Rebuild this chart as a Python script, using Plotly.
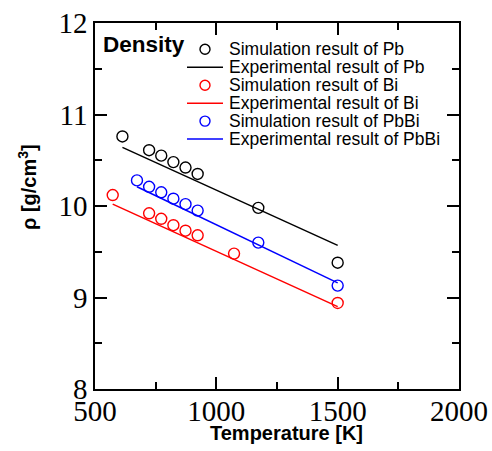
import plotly.graph_objects as go

# ---------------- data ----------------
pb_sim_T = [613, 723, 773, 823, 873, 923, 1173, 1500]
pb_sim_rho = [10.76, 10.61, 10.55, 10.48, 10.42, 10.35, 9.98, 9.38]
pb_exp_T = [613, 1500]
pb_exp_rho = [10.64, 9.57]

bi_sim_T = [573, 723, 773, 823, 873, 923, 1073, 1500]
bi_sim_rho = [10.12, 9.92, 9.86, 9.79, 9.73, 9.68, 9.48, 8.94]
bi_exp_T = [573, 1500]
bi_exp_rho = [10.02, 8.90]

pbbi_sim_T = [673, 723, 773, 823, 873, 923, 1173, 1500]
pbbi_sim_rho = [10.28, 10.21, 10.15, 10.08, 10.02, 9.95, 9.60, 9.13]
pbbi_exp_T = [673, 1500]
pbbi_exp_rho = [10.21, 9.16]

legend_labels = [
    "Simulation result of Pb",
    "Experimental result of Pb",
    "Simulation result of Bi",
    "Experimental result of Bi",
    "Simulation result of PbBi",
    "Experimental result of PbBi",
]
legend_kinds = ["marker", "line", "marker", "line", "marker", "line"]
legend_colors = ["black", "black", "red", "red", "blue", "blue"]

# ---------------- layout constants ----------------
W, H = 492, 451
ML, MR, MT, MB = 95, 33, 23, 62
PW = W - ML - MR
PH = H - MT - MB


def px_x(x):
    return (x - ML) / PW


def px_y(y):
    return (H - MB - y) / PH


MS = 11
LW = 1.5

fig = go.Figure()


def add_sim(T, rho, color, name):
    fig.add_trace(go.Scatter(
        x=T, y=rho, mode="markers", name=name, showlegend=False,
        cliponaxis=False,
        marker=dict(symbol="circle-open", size=MS, color=color,
                    line=dict(width=1.4, color=color)),
    ))


def add_exp(T, rho, color, name):
    fig.add_trace(go.Scatter(
        x=T, y=rho, mode="lines", name=name, showlegend=False,
        line=dict(color=color, width=LW),
    ))


add_exp(pb_exp_T, pb_exp_rho, "black", legend_labels[1])
add_exp(bi_exp_T, bi_exp_rho, "red", legend_labels[3])
add_exp(pbbi_exp_T, pbbi_exp_rho, "blue", legend_labels[5])
add_sim(pb_sim_T, pb_sim_rho, "black", legend_labels[0])
add_sim(bi_sim_T, bi_sim_rho, "red", legend_labels[2])
add_sim(pbbi_sim_T, pbbi_sim_rho, "blue", legend_labels[4])

# ---------------- custom legend ----------------
shapes = []
annotations = []
row0, step = 49.3, 17.95
for i, (lab, kind, col) in enumerate(zip(legend_labels, legend_kinds, legend_colors)):
    yc = row0 + i * step
    if kind == "marker":
        shapes.append(dict(
            type="circle", xref="paper", yref="paper",
            xsizemode="pixel", ysizemode="pixel",
            xanchor=px_x(205), yanchor=px_y(yc),
            x0=-5, x1=5, y0=-5, y1=5,
            line=dict(color=col, width=1.4), fillcolor="rgba(0,0,0,0)",
        ))
    else:
        shapes.append(dict(
            type="line", xref="paper", yref="paper",
            x0=px_x(187), x1=px_x(223), y0=px_y(yc), y1=px_y(yc),
            line=dict(color=col, width=LW),
        ))
    annotations.append(dict(
        text=lab, xref="paper", yref="paper", x=px_x(227), y=px_y(yc),
        xanchor="left", yanchor="middle", showarrow=False,
        font=dict(family="Liberation Sans, Arial", size=17.5, color="black"),
    ))

annotations.append(dict(
    text="<b>Density</b>", xref="paper", yref="paper", x=px_x(101), y=px_y(44.5),
    xanchor="left", yanchor="middle", showarrow=False,
    font=dict(family="Liberation Sans, Arial", size=22.5, color="black"),
))
annotations.append(dict(
    text="<b>Temperature [K]</b>", xref="paper", yref="paper",
    x=px_x(286.5), y=px_y(433), xanchor="center", yanchor="middle",
    showarrow=False,
    font=dict(family="Liberation Sans, Arial", size=20, color="black"),
))
annotations.append(dict(
    text="<b>ρ [g/cm<sup>3</sup>]</b>", xref="paper", yref="paper",
    x=px_x(27), y=px_y(187), xanchor="center", yanchor="middle",
    textangle=-90, showarrow=False,
    font=dict(family="Liberation Sans, Arial", size=20, color="black"),
))

axis_common = dict(
    showline=True, linecolor="black", linewidth=1.5, mirror="allticks",
    ticks="inside", ticklen=12, tickwidth=1.5, tickcolor="black",
    showgrid=False, zeroline=False, automargin=False,
    tickfont=dict(family="Liberation Serif, Times New Roman", size=29, color="black"),
)

fig.update_layout(
    width=W, height=H,
    margin=dict(l=ML, r=MR, t=MT, b=MB, pad=0, autoexpand=False),
    paper_bgcolor="white", plot_bgcolor="white",
    showlegend=False,
    xaxis=dict(range=[500, 2000], dtick=500, tick0=500, ticklabelstandoff=-5,
               minor=dict(ticks="inside", ticklen=7, tickwidth=1.5, tickcolor="black", dtick=250),
               **axis_common),
    yaxis=dict(range=[8, 12], dtick=1, tick0=8,
               minor=dict(ticks="inside", ticklen=7, tickwidth=1.5, tickcolor="black", dtick=0.5),
               **axis_common),
    shapes=shapes,
    annotations=annotations,
)

fig.write_html(
    "out.html",
    config={"displayModeBar": False},
    post_script="document.body.style.margin='0';document.body.style.overflow='hidden';",
)
